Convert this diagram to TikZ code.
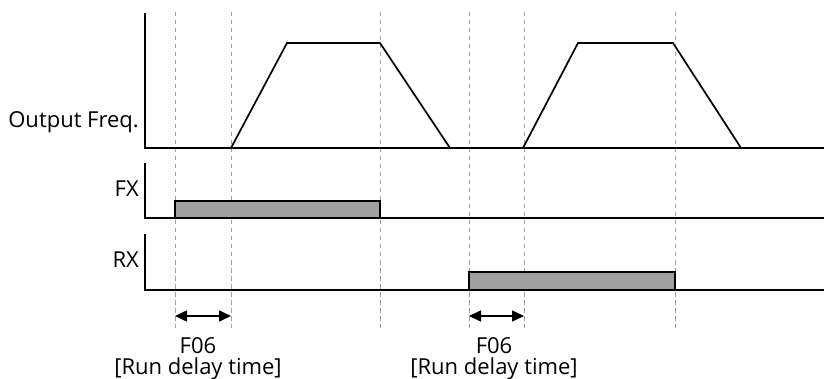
\documentclass[tikz,border=0pt]{standalone}
\usepackage{fontspec}
\setmainfont{Open Sans}
\usetikzlibrary{arrows.meta,positioning}
\definecolor{pulsefill}{HTML}{A0A0A0}
\definecolor{guidec}{HTML}{A0A0A0}
\tikzset{
  axis/.style={line width=2pt},
  wave/.style={line width=1.7pt, line join=miter},
  guide/.style={draw=guidec, line width=0.9pt, dash pattern=on 4.5pt off 3.5pt},
  pulse/.style={draw=black, fill=pulsefill, line width=1.4pt},
  siglabel/.style={anchor=base east, font=\fontsize{22}{24}\selectfont, inner sep=0pt},
  delaylabel/.style={align=center, anchor=north, font=\fontsize{22}{21}\selectfont, inner sep=0pt},
  span/.style={{Triangle[length=12pt,width=11pt]}-{Triangle[length=12pt,width=11pt]}, line width=1.6pt},
}
\def\xO{145}
\def\tA{175}
\def\tB{231}
\def\tC{380}
\def\tD{469}
\def\tE{524}
\def\tF{675}
\begin{document}
\begin{tikzpicture}[x=1pt,y=-1pt]
  \useasboundingbox (0,0) rectangle (824,379);
  % dashed time marks
  \foreach \t in {\tA,\tB,\tC,\tD,\tE,\tF} \draw[guide] (\t,12) -- (\t,328);
  % FX / RX pulses
  \draw[pulse] (\tA,218) rectangle (\tC,201);
  \draw[pulse] (\tD,290) rectangle (\tF,272);
  % output frequency
  \draw[wave] (231,148) -- (287,43) -- (380,43) -- (450,148);
  \draw[wave] (523,148) -- (578,43) -- (673,43) -- (741,148);
  % axes
  \draw[axis] (\xO,13) |- (824,148);
  \draw[axis] (\xO,163) |- (824,218);
  \draw[axis] (\xO,234) |- (824,290);
  \node[siglabel] (freq) at (139,128) {Output Freq.};
  \node[siglabel] (fx) at (139,197) {FX};
  \node[siglabel] (rx) at (139,268) {RX};
  % run delay spans
  \coordinate (dA) at (\tA,316); \coordinate (dB) at (\tB,316);
  \coordinate (dD) at (\tD,316); \coordinate (dE) at (\tE,316);
  \draw[span] (dA) -- (dB);
  \draw[span] (dD) -- (dE);
  \node[delaylabel] (delayA) at (198,337) {F06\\\relax[Run delay time]};
  \node[delaylabel] (delayB) at (494,337) {F06\\\relax[Run delay time]};
\end{tikzpicture}
\end{document}
